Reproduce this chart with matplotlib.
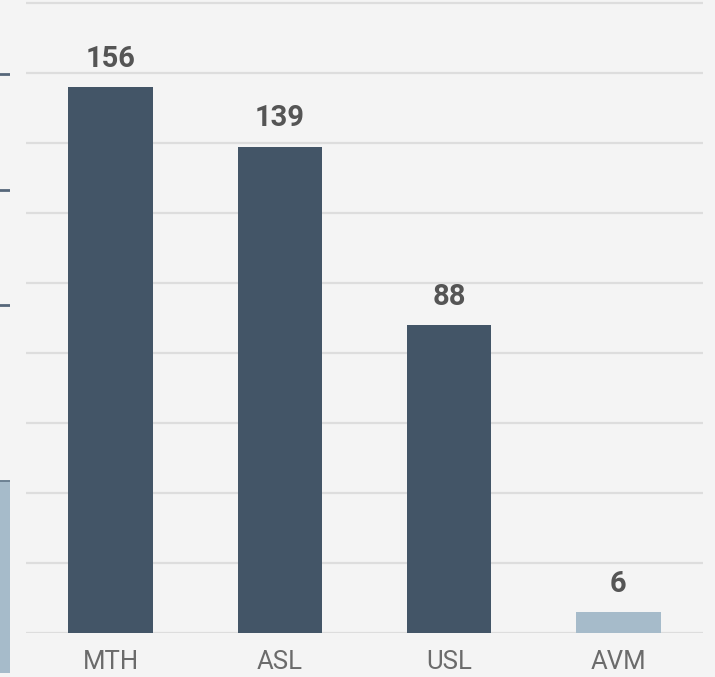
import matplotlib.pyplot as plt

# data
categories = ['MTH', 'ASL', 'USL', 'AVM']
values = [156, 139, 88, 6]
highlight = [True, True, True, False]

# partial neighbour panel visible at the left edge (its own 0-100 scale)
frag_lines = [89, 72, 55]
frag_bar_bottom = 0.6
frag_bar_top = 29

W, H = 715, 677
BG = '#f4f4f4'
DARK = '#435567'
LIGHT = '#a6bbca'

plt.rcParams['font.family'] = ['Roboto', 'DejaVu Sans']

fig = plt.figure(figsize=(W / 100, H / 100), dpi=100, facecolor=BG)

# left fragment
axf = fig.add_axes([0, 0, 10 / W, 1])
axf.set_facecolor(BG)
axf.set_xlim(0, 1)
axf.set_ylim(0, 100)
for lv in frag_lines:
    axf.axhline(lv, color='#56677a', lw=2)
axf.bar(0.5, frag_bar_top - frag_bar_bottom, bottom=frag_bar_bottom, width=1,
        color=LIGHT)
axf.axhline(frag_bar_top, color='#6d8193', lw=1.4)
axf.axis('off')

# main chart
base = 633
ax = fig.add_axes([26 / W, (H - base) / H, 677 / W, base / H])
ax.set_facecolor(BG)
ax.set_xlim(-0.5, 3.5)
ax.set_ylim(0, base / 3.5)

colors = [DARK if h else LIGHT for h in highlight]
bars = ax.bar(range(len(categories)), values, width=0.5, color=colors, zorder=3)

ax.set_yticks(range(0, 181, 20))
ax.yaxis.grid(True, color='#dddddd', lw=1.6, zorder=0)
ax.set_yticklabels([])
ax.tick_params(axis='y', length=0)
for s in ax.spines.values():
    s.set_visible(False)

ax.set_xticks(range(len(categories)))
ax.set_xticklabels(categories, fontsize=18.5, color='#6b6b6b')
ax.tick_params(axis='x', length=0, pad=12)

for b, v in zip(bars, values):
    ax.annotate(str(v), (b.get_x() + b.get_width() / 2, v),
                xytext=(0, 14.5), textcoords='offset points',
                ha='center', va='baseline', fontsize=21, fontweight='bold',
                color='#555555')

fig.savefig('out.png', dpi=100, facecolor=BG)
